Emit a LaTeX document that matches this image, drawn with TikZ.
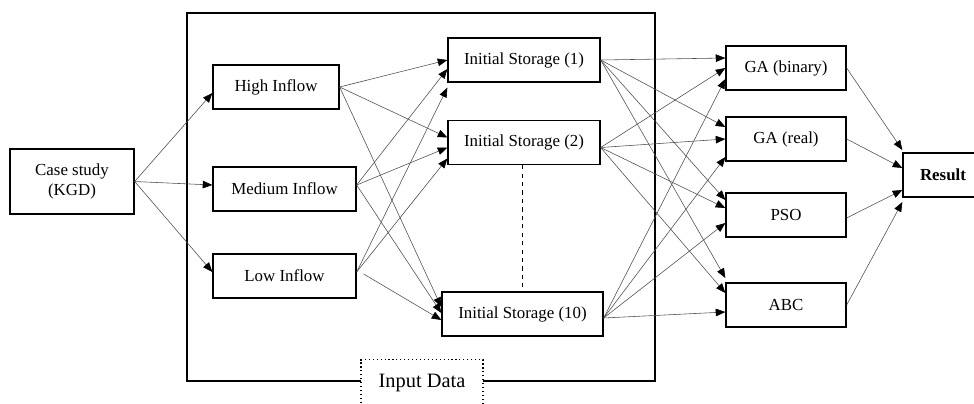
\documentclass[tikz,border=0pt]{standalone}
\usepackage{fontspec}
\setmainfont{Liberation Serif}
\usetikzlibrary{arrows.meta,calc}

\begin{document}
\begin{tikzpicture}[x=0.025cm, y=-0.025cm,
                    main node/.style={draw,line width=0.9pt,inner sep=0pt,minimum height=1.1cm,
                                      align=center,font=\fontsize{12}{14}\selectfont},
                    flow/.style={draw,black!70,line width=0.4pt,
                                 -{Triangle[length=0.24cm,width=0.19cm,black]}}]

  \useasboundingbox (0,0) rectangle (974,403);

  \node[main node,minimum width=3.1cm,minimum height=1.625cm] (case) at (72,181.5) {Case study\\(KGD)};

  \node[main node,minimum width=3.15cm]  (high)   at (276,87)    {High Inflow};
  \node[main node,minimum width=3.575cm] (medium) at (284.5,189) {Medium Inflow};
  \node[main node,minimum width=3.575cm] (low)    at (284.5,276) {Low Inflow};

  \node[main node,minimum width=3.8cm]   (is1)  at (524,60)    {Initial Storage (1)};
  \node[main node,minimum width=3.8cm]   (is2)  at (524,142.5) {Initial Storage (2)};
  \node[main node,minimum width=4.025cm] (is10) at (522.5,314) {Initial Storage (10)};

  \node[main node,minimum width=3cm] (gab) at (786,68)  {GA (binary)};
  \node[main node,minimum width=3cm] (gar) at (786,139) {GA (real)};
  \node[main node,minimum width=3cm] (pso) at (786,215) {PSO};
  \node[main node,minimum width=3cm] (abc) at (786,305) {ABC};

  \node[main node,minimum width=2cm,font=\fontsize{12}{14}\selectfont\bfseries] (result) at (943,175) {Result};

  \node[draw,dotted,line width=0.8pt,inner sep=0pt,minimum width=3.05cm,anchor=north,
        text height=0.7cm,text depth=1cm,font=\fontsize{14.5}{16}\selectfont] (input) at (422,359) {Input Data};

  \draw[line width=0.9pt] (361,381) -- (187,381) -- (187,13) -- (655,13) -- (655,381) -- (483,381);

  \draw[dashed,line width=0.6pt] (is10.north |- is2.south) -- (is10.north);

  \path[every edge/.style={flow}]
    (case.east) edge ($(high.west)+(0,6)$)
                edge ($(medium.west)+(0,-4)$)
                edge ($(low.west)+(0,-4)$)
    (high.east) edge (is1.west)
                edge ($(is2.west)+(0,-5)$)
                edge ($(is10.west)+(0,-7)$)
    ($(medium.east)+(0,-4)$) edge ($(is1.west)+(0,9)$)
                             edge ($(is2.west)+(0,5)$)
                             edge ($(is10.west)+(0,-1)$)
    ($(low.east)+(0,-4)$) edge ($(is1.south west)+(0,5)$)
                          edge ($(is2.west)+(0,16)$)
    ($(low.east)+(7,-2)$) edge ($(is10.west)+(0,6)$)
    (is1.east) edge ($(gab.west)+(0,-10)$)
               edge ($(gar.west)+(0,-12)$)
               edge ($(pso.west)+(0,-15)$)
               edge ($(abc.west)+(0,-27)$)
    ($(is2.east)+(0,5)$) edge (gab.west)
                         edge (gar.west)
                         edge ($(pso.west)+(0,-7)$)
                         edge ($(abc.west)+(0,-12)$)
    ($(is10.east)+(0,4)$) edge ($(gab.west)+(0,11)$)
                          edge ($(gar.west)+(0,18)$)
                          edge ($(pso.west)+(0,8)$)
                          edge ($(abc.west)+(0,7)$)
    (gab.east) edge ($(result.west)+(0,-25)$)
    (gar.east) edge ($(result.west)+(0,-7)$)
    ($(pso.east)+(0,3)$) edge ($(result.west)+(0,15)$)
    (abc.east) edge ($(result.west)+(0,27)$);
\end{tikzpicture}
\end{document}
